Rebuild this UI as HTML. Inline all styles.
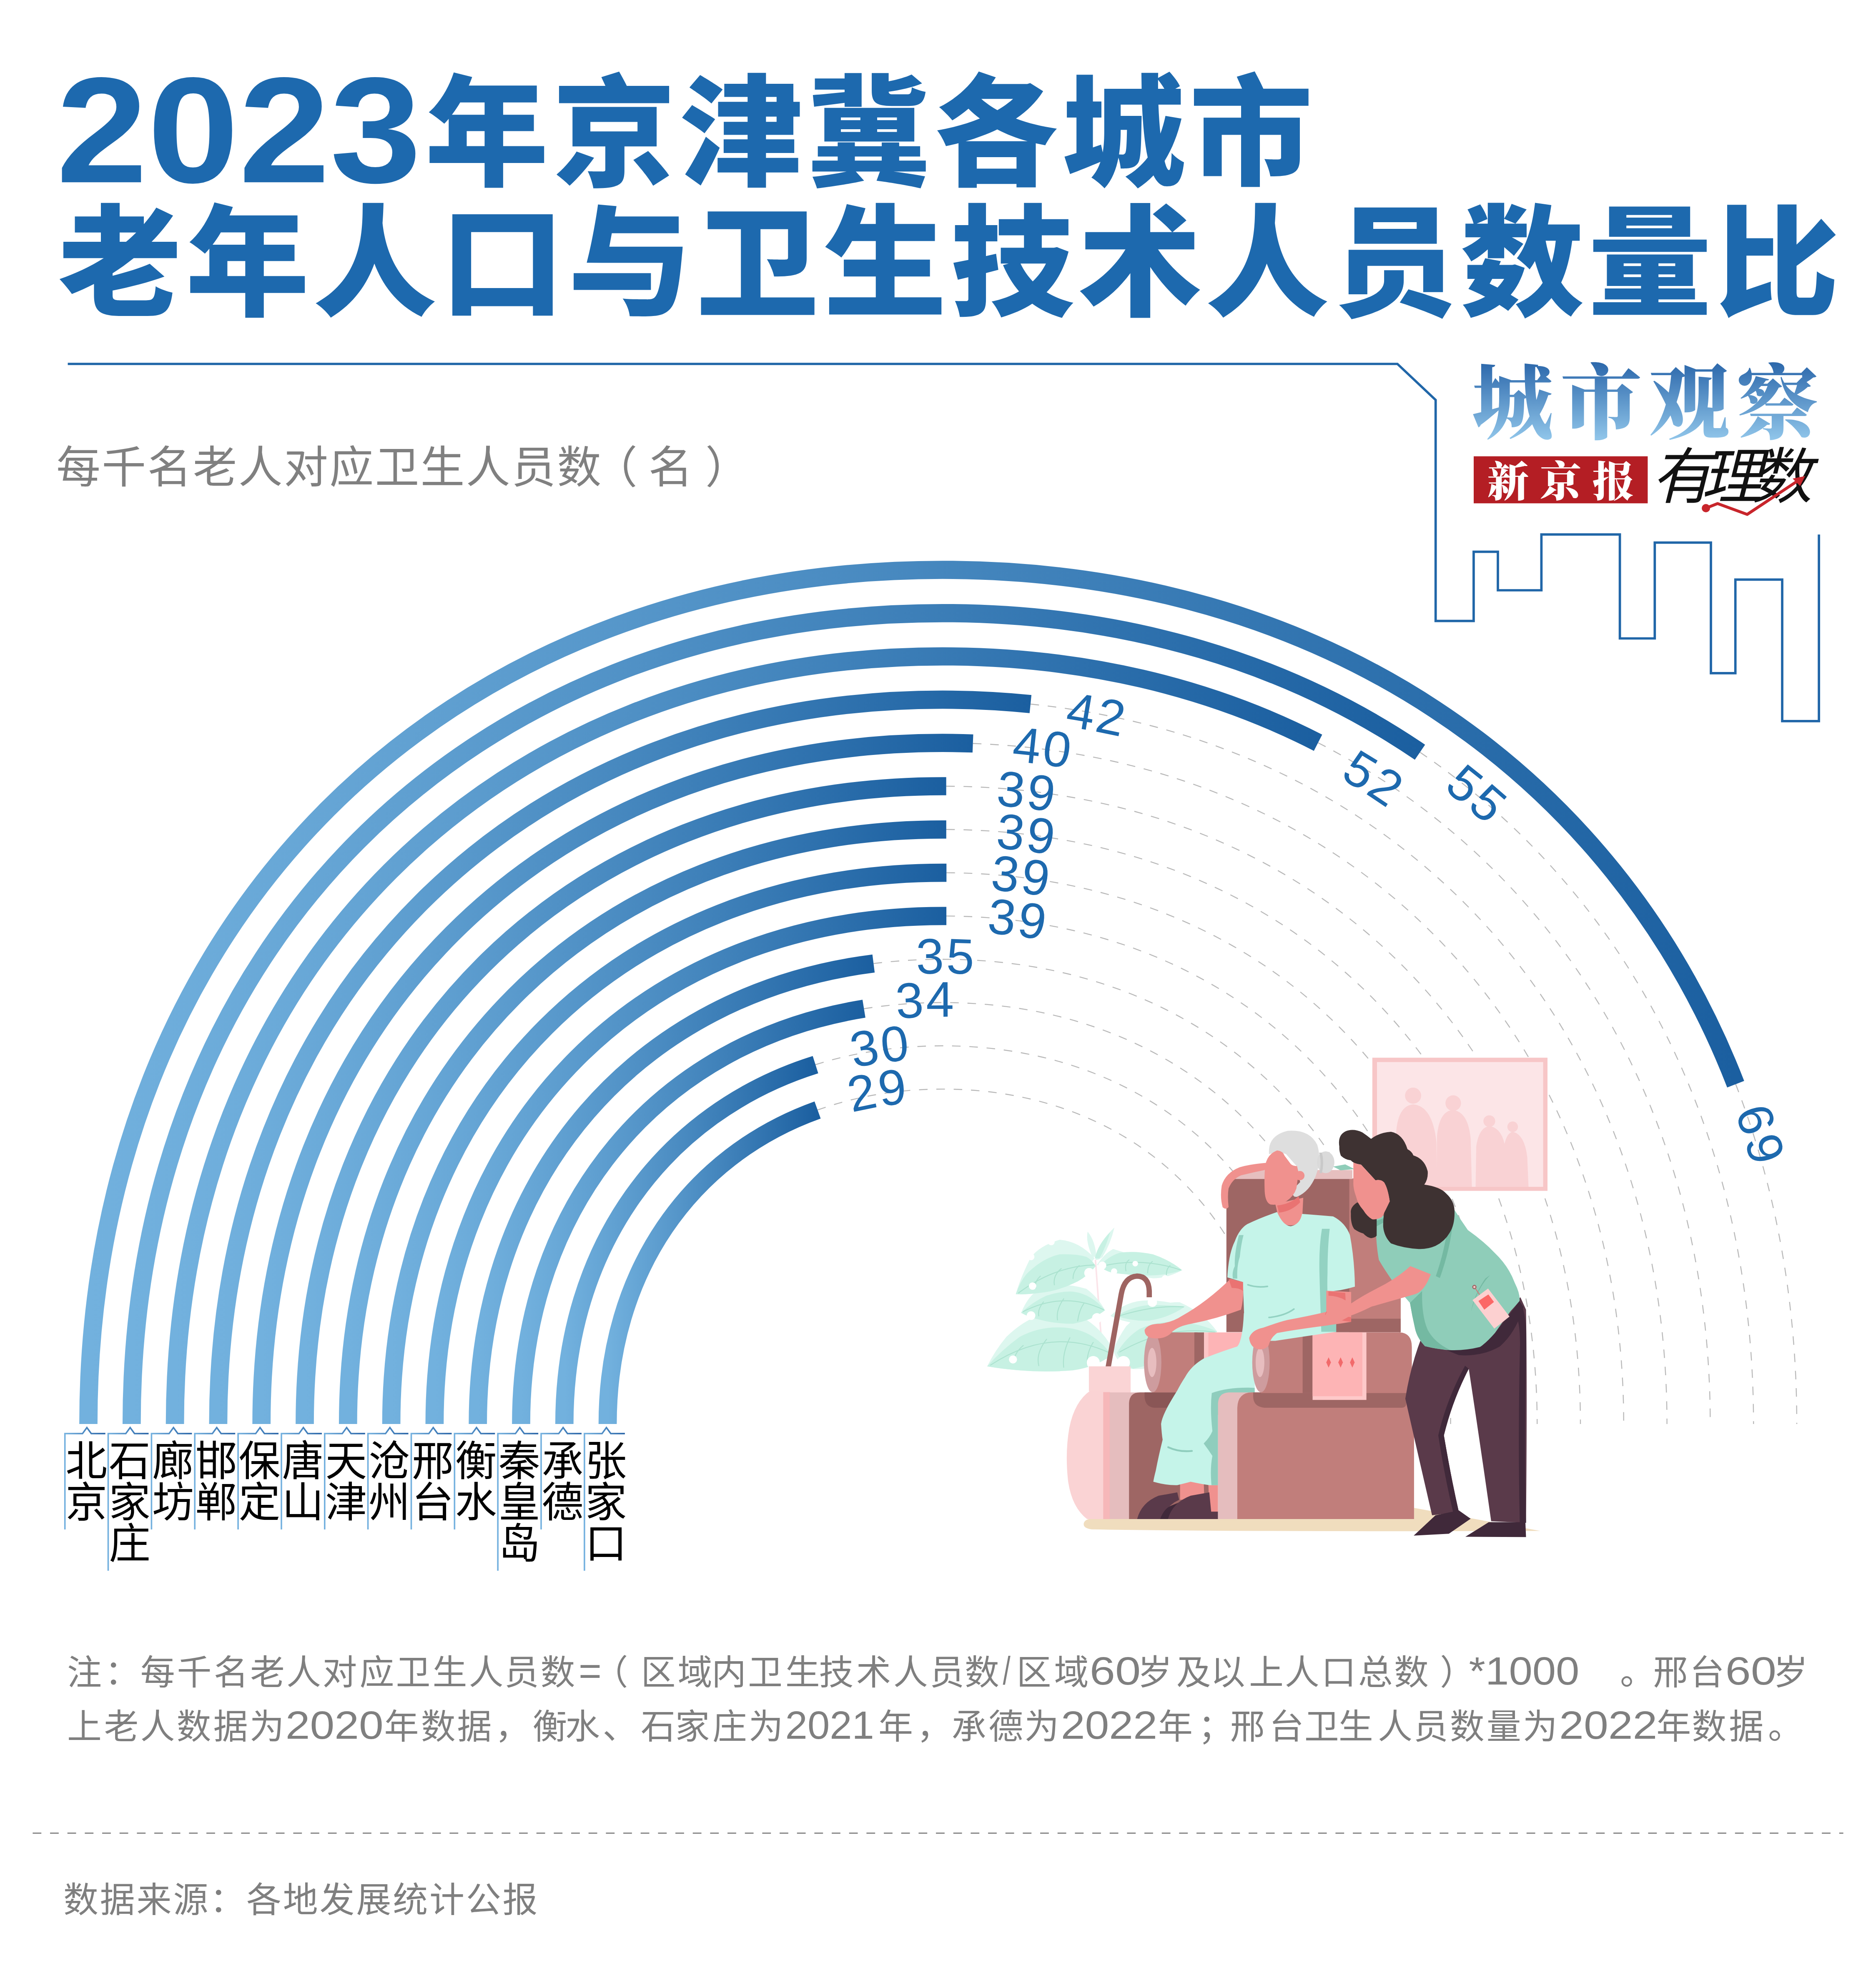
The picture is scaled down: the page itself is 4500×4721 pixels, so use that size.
<!DOCTYPE html><html><head><meta charset="utf-8"><style>
html,body{margin:0;padding:0;background:#fff;}
svg{display:block}
.cj{font-family:"Liberation Sans","Noto Sans CJK SC",sans-serif;}
</style></head><body>
<svg width="4500" height="4721" viewBox="0 0 4500 4721">
<rect width="4500" height="4721" fill="#fff"/>

<g fill="#1D69AE">
<text x="135" y="437.2" font-family="Liberation Sans, sans-serif" font-weight="700" font-size="361" textLength="875.6" lengthAdjust="spacingAndGlyphs">2023</text>
<text x="1019.8" y="423" font-family="Liberation Sans, Noto Sans CJK SC, sans-serif" font-weight="900" font-size="296" letter-spacing="9.5" transform="translate(0,423) scale(1,0.98) translate(0,-423)">年京津冀各城市</text>
<text x="139.9" y="734.7" font-family="Liberation Sans, Noto Sans CJK SC, sans-serif" font-weight="900" font-size="296" letter-spacing="9.8" transform="translate(0,734.7) scale(1,0.98) translate(0,-734.7)">老年人口与卫生技术人员数量比</text>
</g>
<polyline fill="none" stroke="#2066A8" stroke-width="5.7" stroke-linejoin="miter" stroke-miterlimit="10" points="162.6,873 3352,873 3443.7,959.4 3443.7,1489.6 3534.9,1489.6 3534.9,1323.6 3593,1323.6 3593,1416 3697.4,1416 3697.4,1282.2 3885.6,1282.2 3885.6,1531.5 3969.3,1531.5 3969.3,1301.6 4104,1301.6 4104,1614.8 4162.7,1614.8 4162.7,1390.3 4275,1390.3 4275,1729.8 4363.1,1729.8 4363.1,1282.2"/>
<defs><linearGradient id="lg" gradientUnits="userSpaceOnUse" x1="0" y1="869" x2="0" y2="1052"><stop offset="0" stop-color="#2C68AB"/><stop offset="1" stop-color="#8FC4E9"/></linearGradient></defs>
<text x="3530.7" y="1036.7" font-family="Liberation Serif, Noto Serif CJK SC, serif" font-weight="900" font-size="195" letter-spacing="17" fill="url(#lg)">城市观察</text>
<rect x="3535" y="1094.6" width="417.4" height="112.8" fill="#B41E24"/>
<text x="3567.6" y="1190.7" font-family="Liberation Serif, Noto Serif CJK SC, serif" font-weight="900" font-size="100" letter-spacing="26" fill="#fff">新京报</text>
<text transform="translate(3961,1195) skewX(-14)" x="0" y="0" font-family="Liberation Sans, Noto Sans CJK SC, sans-serif" font-weight="400" font-size="146" letter-spacing="-26" fill="#111">有理数</text>
<polyline points="4092,1219 4120,1208 4191,1234 4322,1147" fill="none" stroke="#C8252B" stroke-width="7" stroke-linejoin="round"/>
<circle cx="4092" cy="1219" r="10" fill="#C8252B"/>
<path d="M4330,1142 L4300,1148 L4318,1166 Z" fill="#C8252B"/>
<g font-family="Liberation Sans, Noto Sans CJK SC, sans-serif" font-size="106" fill="#808080"><text x="135" y="1158" letter-spacing="3.2">每千名老人对应卫生人员数</text><text x="1423" y="1158">（</text><text x="1555.6" y="1158">名</text><text x="1691.8" y="1158">）</text></g>
<defs>
<path id="ring0" d="M212.0,3416.0C212.0,2214.7 1059.7,1367.0 2261.0,1367.0C3462.3,1367.0 4310.0,2214.7 4310.0,3416.0"/>
<linearGradient id="g0" x1="0" y1="0" x2="1" y2="0"><stop offset="0" stop-color="#72B1DE"/><stop offset="1" stop-color="#1B5FA0"/></linearGradient>
<path id="ring1" d="M315.8,3416.0C315.8,2275.5 1120.5,1470.8 2261.0,1470.8C3401.5,1470.8 4206.2,2275.5 4206.2,3416.0"/>
<linearGradient id="g1" x1="0" y1="0" x2="1" y2="0"><stop offset="0" stop-color="#72B1DE"/><stop offset="1" stop-color="#1B5FA0"/></linearGradient>
<path id="ring2" d="M419.6,3416.0C419.6,2336.4 1181.4,1574.6 2261.0,1574.6C3340.6,1574.6 4102.4,2336.4 4102.4,3416.0"/>
<linearGradient id="g2" x1="0" y1="0" x2="1" y2="0"><stop offset="0" stop-color="#72B1DE"/><stop offset="1" stop-color="#1B5FA0"/></linearGradient>
<path id="ring3" d="M523.4,3416.0C523.4,2397.2 1242.2,1678.4 2261.0,1678.4C3279.8,1678.4 3998.6,2397.2 3998.6,3416.0"/>
<linearGradient id="g3" x1="0" y1="0" x2="1" y2="0"><stop offset="0" stop-color="#72B1DE"/><stop offset="1" stop-color="#1B5FA0"/></linearGradient>
<path id="ring4" d="M627.2,3416.0C627.2,2458.1 1303.1,1782.2 2261.0,1782.2C3218.9,1782.2 3894.8,2458.1 3894.8,3416.0"/>
<linearGradient id="g4" x1="0" y1="0" x2="1" y2="0"><stop offset="0" stop-color="#72B1DE"/><stop offset="1" stop-color="#1B5FA0"/></linearGradient>
<path id="ring5" d="M731.0,3416.0C731.0,2519.0 1364.0,1886.0 2261.0,1886.0C3158.0,1886.0 3791.0,2519.0 3791.0,3416.0"/>
<linearGradient id="g5" x1="0" y1="0" x2="1" y2="0"><stop offset="0" stop-color="#72B1DE"/><stop offset="1" stop-color="#1B5FA0"/></linearGradient>
<path id="ring6" d="M834.8,3416.0C834.8,2579.8 1424.8,1989.8 2261.0,1989.8C3097.2,1989.8 3687.2,2579.8 3687.2,3416.0"/>
<linearGradient id="g6" x1="0" y1="0" x2="1" y2="0"><stop offset="0" stop-color="#72B1DE"/><stop offset="1" stop-color="#1B5FA0"/></linearGradient>
<path id="ring7" d="M938.6,3416.0C938.6,2640.7 1485.7,2093.6 2261.0,2093.6C3036.3,2093.6 3583.4,2640.7 3583.4,3416.0"/>
<linearGradient id="g7" x1="0" y1="0" x2="1" y2="0"><stop offset="0" stop-color="#72B1DE"/><stop offset="1" stop-color="#1B5FA0"/></linearGradient>
<path id="ring8" d="M1042.4,3416.0C1042.4,2701.5 1546.5,2197.4 2261.0,2197.4C2975.5,2197.4 3479.6,2701.5 3479.6,3416.0"/>
<linearGradient id="g8" x1="0" y1="0" x2="1" y2="0"><stop offset="0" stop-color="#72B1DE"/><stop offset="1" stop-color="#1B5FA0"/></linearGradient>
<path id="ring9" d="M1146.2,3416.0C1146.2,2762.4 1607.4,2301.2 2261.0,2301.2C2914.6,2301.2 3375.8,2762.4 3375.8,3416.0"/>
<linearGradient id="g9" x1="0" y1="0" x2="1" y2="0"><stop offset="0" stop-color="#72B1DE"/><stop offset="1" stop-color="#1B5FA0"/></linearGradient>
<path id="ring10" d="M1250.0,3416.0C1250.0,2823.3 1668.3,2405.0 2261.0,2405.0C2853.7,2405.0 3272.0,2823.3 3272.0,3416.0"/>
<linearGradient id="g10" x1="0" y1="0" x2="1" y2="0"><stop offset="0" stop-color="#72B1DE"/><stop offset="1" stop-color="#1B5FA0"/></linearGradient>
<path id="ring11" d="M1353.8,3416.0C1353.8,2884.1 1729.1,2508.8 2261.0,2508.8C2792.9,2508.8 3168.2,2884.1 3168.2,3416.0"/>
<linearGradient id="g11" x1="0" y1="0" x2="1" y2="0"><stop offset="0" stop-color="#72B1DE"/><stop offset="1" stop-color="#1B5FA0"/></linearGradient>
<path id="ring12" d="M1457.6,3416.0C1457.6,2945.0 1790.0,2612.6 2261.0,2612.6C2732.0,2612.6 3064.4,2945.0 3064.4,3416.0"/>
<linearGradient id="g12" x1="0" y1="0" x2="1" y2="0"><stop offset="0" stop-color="#72B1DE"/><stop offset="1" stop-color="#1B5FA0"/></linearGradient>
</defs>
<g fill="none" stroke="#B9B9B9" stroke-width="2.4" stroke-dasharray="20.5 21">
<path d="M4163.4,2600.8C4258.7,2846.2 4310.0,3120.4 4310.0,3416.0"/>
<path d="M3406.1,1804.5C3903.4,2143.2 4206.2,2716.4 4206.2,3416.0"/>
<path d="M3161.6,1781.7C3740.3,2078.4 4102.4,2671.7 4102.4,3416.0"/>
<path d="M2471.9,1689.0C3377.6,1781.3 3998.6,2469.1 3998.6,3416.0"/>
<path d="M2333.7,1783.5C3252.9,1816.9 3894.8,2482.5 3894.8,3416.0"/>
<path d="M2269.7,1886.0C3162.1,1890.1 3791.0,2521.9 3791.0,3416.0"/>
<path d="M2269.8,1989.8C3101.3,1993.9 3687.2,2582.7 3687.2,3416.0"/>
<path d="M2270.3,2093.6C3040.7,2098.0 3583.4,2643.8 3583.4,3416.0"/>
<path d="M2270.1,2197.4C2979.7,2201.7 3479.6,2704.6 3479.6,3416.0"/>
<path d="M2095.4,2311.4C2149.0,2304.7 2204.3,2301.2 2261.0,2301.2C2914.6,2301.2 3375.8,2762.4 3375.8,3416.0"/>
<path d="M2072.4,2419.8C2133.0,2410.0 2195.9,2405.0 2261.0,2405.0C2853.7,2405.0 3272.0,2823.3 3272.0,3416.0"/>
<path d="M1956.1,2554.0C2050.0,2524.5 2152.2,2508.8 2261.0,2508.8C2792.9,2508.8 3168.2,2884.1 3168.2,3416.0"/>
<path d="M1961.2,2662.7C2052.3,2630.1 2153.0,2612.6 2261.0,2612.6C2732.0,2612.6 3064.4,2945.0 3064.4,3416.0"/>
</g>
<path d="M212.0,3416.0C212.0,2214.7 1059.7,1367.0 2261.0,1367.0C3166.7,1367.0 3871.4,1848.8 4163.4,2600.8" fill="none" stroke="url(#g0)" stroke-width="43.7"/>
<path d="M315.8,3416.0C315.8,2275.5 1120.5,1470.8 2261.0,1470.8C2701.9,1470.8 3092.6,1591.1 3406.1,1804.5" fill="none" stroke="url(#g1)" stroke-width="43.7"/>
<path d="M419.6,3416.0C419.6,2336.4 1181.4,1574.6 2261.0,1574.6C2596.3,1574.6 2901.0,1648.1 3161.6,1781.7" fill="none" stroke="url(#g2)" stroke-width="43.7"/>
<path d="M523.4,3416.0C523.4,2397.2 1242.2,1678.4 2261.0,1678.4C2332.8,1678.4 2403.2,1682.0 2471.9,1689.0" fill="none" stroke="url(#g3)" stroke-width="43.7"/>
<path d="M627.2,3416.0C627.2,2458.1 1303.1,1782.2 2261.0,1782.2C2285.4,1782.2 2309.7,1782.6 2333.7,1783.5" fill="none" stroke="url(#g4)" stroke-width="43.7"/>
<path d="M731.0,3416.0C731.0,2519.0 1364.0,1886.0 2261.0,1886.0C2263.9,1886.0 2266.8,1886.0 2269.7,1886.0" fill="none" stroke="url(#g5)" stroke-width="43.7"/>
<path d="M834.8,3416.0C834.8,2579.8 1424.8,1989.8 2261.0,1989.8C2263.9,1989.8 2266.9,1989.8 2269.8,1989.8" fill="none" stroke="url(#g6)" stroke-width="43.7"/>
<path d="M938.6,3416.0C938.6,2640.7 1485.7,2093.6 2261.0,2093.6C2264.1,2093.6 2267.2,2093.6 2270.3,2093.6" fill="none" stroke="url(#g7)" stroke-width="43.7"/>
<path d="M1042.4,3416.0C1042.4,2701.5 1546.5,2197.4 2261.0,2197.4C2264.0,2197.4 2267.1,2197.4 2270.1,2197.4" fill="none" stroke="url(#g8)" stroke-width="43.7"/>
<path d="M1146.2,3416.0C1146.2,2819.1 1530.8,2382.7 2095.4,2311.4" fill="none" stroke="url(#g9)" stroke-width="43.7"/>
<path d="M1250.0,3416.0C1250.0,2888.3 1581.5,2498.9 2072.4,2419.8" fill="none" stroke="url(#g10)" stroke-width="43.7"/>
<path d="M1353.8,3416.0C1353.8,2992.9 1591.3,2668.9 1956.1,2554.0" fill="none" stroke="url(#g11)" stroke-width="43.7"/>
<path d="M1457.6,3416.0C1457.6,3053.0 1655.0,2772.3 1961.2,2662.7" fill="none" stroke="url(#g12)" stroke-width="43.7"/>
<g font-family="Liberation Sans, sans-serif" font-size="120" fill="#1D69AE">
<text dy="25" text-anchor="middle" letter-spacing="6"><textPath href="#ring0" startOffset="5801.4">69</textPath></text>
<text dy="39" text-anchor="middle" letter-spacing="6"><textPath href="#ring1" startOffset="4466.7">55</textPath></text>
<text dy="49.5" text-anchor="middle" letter-spacing="6"><textPath href="#ring2" startOffset="4013.4">52</textPath></text>
<text dy="43" text-anchor="middle" letter-spacing="6"><textPath href="#ring3" startOffset="3129.1">42</textPath></text>
<text dy="37" text-anchor="middle" letter-spacing="6"><textPath href="#ring4" startOffset="2832.8">40</textPath></text>
<text dy="42" text-anchor="middle" letter-spacing="6"><textPath href="#ring5" startOffset="2630.3">39</textPath></text>
<text dy="40" text-anchor="middle" letter-spacing="6"><textPath href="#ring6" startOffset="2464.7">39</textPath></text>
<text dy="37" text-anchor="middle" letter-spacing="6"><textPath href="#ring7" startOffset="2287.1">39</textPath></text>
<text dy="37" text-anchor="middle" letter-spacing="6"><textPath href="#ring8" startOffset="2114.3">39</textPath></text>
<text dy="34" text-anchor="middle" letter-spacing="6"><textPath href="#ring9" startOffset="1777.0">35</textPath></text>
<text dy="34" text-anchor="middle" letter-spacing="6"><textPath href="#ring10" startOffset="1563.7">34</textPath></text>
<text dy="31" text-anchor="middle" letter-spacing="6"><textPath href="#ring11" startOffset="1291.1">30</textPath></text>
<text dy="30" text-anchor="middle" letter-spacing="6"><textPath href="#ring12" startOffset="1120.7">29</textPath></text>
</g>
<defs><linearGradient id="bg" x1="0" y1="0" x2="1" y2="0"><stop offset="0" stop-color="#74B1DF"/><stop offset="1" stop-color="#2461A5"/></linearGradient></defs>
<path d="M155.7,3669 V3439 H197.9 L208.4,3424.6 L218.9,3439 H252.7" fill="none" stroke="url(#bg)" stroke-width="3.6"/>
<text x="157.2" y="3539.8" font-family="Liberation Sans, Noto Sans CJK SC, sans-serif" font-size="100" fill="#000">北</text>
<text x="157.2" y="3639.1" font-family="Liberation Sans, Noto Sans CJK SC, sans-serif" font-size="100" fill="#000">京</text>
<path d="M259.5,3768 V3439 H301.7 L312.2,3424.6 L322.7,3439 H356.5" fill="none" stroke="url(#bg)" stroke-width="3.6"/>
<text x="261.0" y="3539.8" font-family="Liberation Sans, Noto Sans CJK SC, sans-serif" font-size="100" fill="#000">石</text>
<text x="261.0" y="3639.1" font-family="Liberation Sans, Noto Sans CJK SC, sans-serif" font-size="100" fill="#000">家</text>
<text x="261.0" y="3738.4" font-family="Liberation Sans, Noto Sans CJK SC, sans-serif" font-size="100" fill="#000">庄</text>
<path d="M363.4,3669 V3439 H405.6 L416.1,3424.6 L426.6,3439 H460.4" fill="none" stroke="url(#bg)" stroke-width="3.6"/>
<text x="364.9" y="3539.8" font-family="Liberation Sans, Noto Sans CJK SC, sans-serif" font-size="100" fill="#000">廊</text>
<text x="364.9" y="3639.1" font-family="Liberation Sans, Noto Sans CJK SC, sans-serif" font-size="100" fill="#000">坊</text>
<path d="M467.2,3669 V3439 H509.4 L519.9,3424.6 L530.4,3439 H564.2" fill="none" stroke="url(#bg)" stroke-width="3.6"/>
<text x="468.7" y="3539.8" font-family="Liberation Sans, Noto Sans CJK SC, sans-serif" font-size="100" fill="#000">邯</text>
<text x="468.7" y="3639.1" font-family="Liberation Sans, Noto Sans CJK SC, sans-serif" font-size="100" fill="#000">郸</text>
<path d="M571.1,3669 V3439 H613.3 L623.8,3424.6 L634.3,3439 H668.1" fill="none" stroke="url(#bg)" stroke-width="3.6"/>
<text x="572.6" y="3539.8" font-family="Liberation Sans, Noto Sans CJK SC, sans-serif" font-size="100" fill="#000">保</text>
<text x="572.6" y="3639.1" font-family="Liberation Sans, Noto Sans CJK SC, sans-serif" font-size="100" fill="#000">定</text>
<path d="M675.0,3669 V3439 H717.2 L727.7,3424.6 L738.2,3439 H772.0" fill="none" stroke="url(#bg)" stroke-width="3.6"/>
<text x="676.5" y="3539.8" font-family="Liberation Sans, Noto Sans CJK SC, sans-serif" font-size="100" fill="#000">唐</text>
<text x="676.5" y="3639.1" font-family="Liberation Sans, Noto Sans CJK SC, sans-serif" font-size="100" fill="#000">山</text>
<path d="M778.8,3669 V3439 H821.0 L831.5,3424.6 L842.0,3439 H875.8" fill="none" stroke="url(#bg)" stroke-width="3.6"/>
<text x="780.3" y="3539.8" font-family="Liberation Sans, Noto Sans CJK SC, sans-serif" font-size="100" fill="#000">天</text>
<text x="780.3" y="3639.1" font-family="Liberation Sans, Noto Sans CJK SC, sans-serif" font-size="100" fill="#000">津</text>
<path d="M882.6,3669 V3439 H924.8 L935.3,3424.6 L945.8,3439 H979.6" fill="none" stroke="url(#bg)" stroke-width="3.6"/>
<text x="884.1" y="3539.8" font-family="Liberation Sans, Noto Sans CJK SC, sans-serif" font-size="100" fill="#000">沧</text>
<text x="884.1" y="3639.1" font-family="Liberation Sans, Noto Sans CJK SC, sans-serif" font-size="100" fill="#000">州</text>
<path d="M986.5,3669 V3439 H1028.7 L1039.2,3424.6 L1049.7,3439 H1083.5" fill="none" stroke="url(#bg)" stroke-width="3.6"/>
<text x="988.0" y="3539.8" font-family="Liberation Sans, Noto Sans CJK SC, sans-serif" font-size="100" fill="#000">邢</text>
<text x="988.0" y="3639.1" font-family="Liberation Sans, Noto Sans CJK SC, sans-serif" font-size="100" fill="#000">台</text>
<path d="M1090.3,3669 V3439 H1132.5 L1143.0,3424.6 L1153.5,3439 H1187.3" fill="none" stroke="url(#bg)" stroke-width="3.6"/>
<text x="1091.8" y="3539.8" font-family="Liberation Sans, Noto Sans CJK SC, sans-serif" font-size="100" fill="#000">衡</text>
<text x="1091.8" y="3639.1" font-family="Liberation Sans, Noto Sans CJK SC, sans-serif" font-size="100" fill="#000">水</text>
<path d="M1194.2,3768 V3439 H1236.4 L1246.9,3424.6 L1257.4,3439 H1291.2" fill="none" stroke="url(#bg)" stroke-width="3.6"/>
<text x="1195.7" y="3539.8" font-family="Liberation Sans, Noto Sans CJK SC, sans-serif" font-size="100" fill="#000">秦</text>
<text x="1195.7" y="3639.1" font-family="Liberation Sans, Noto Sans CJK SC, sans-serif" font-size="100" fill="#000">皇</text>
<text x="1195.7" y="3738.4" font-family="Liberation Sans, Noto Sans CJK SC, sans-serif" font-size="100" fill="#000">岛</text>
<path d="M1298.0,3669 V3439 H1340.2 L1350.8,3424.6 L1361.2,3439 H1395.0" fill="none" stroke="url(#bg)" stroke-width="3.6"/>
<text x="1299.5" y="3539.8" font-family="Liberation Sans, Noto Sans CJK SC, sans-serif" font-size="100" fill="#000">承</text>
<text x="1299.5" y="3639.1" font-family="Liberation Sans, Noto Sans CJK SC, sans-serif" font-size="100" fill="#000">德</text>
<path d="M1401.9,3768 V3439 H1444.1 L1454.6,3424.6 L1465.1,3439 H1498.9" fill="none" stroke="url(#bg)" stroke-width="3.6"/>
<text x="1403.4" y="3539.8" font-family="Liberation Sans, Noto Sans CJK SC, sans-serif" font-size="100" fill="#000">张</text>
<text x="1403.4" y="3639.1" font-family="Liberation Sans, Noto Sans CJK SC, sans-serif" font-size="100" fill="#000">家</text>
<text x="1403.4" y="3738.4" font-family="Liberation Sans, Noto Sans CJK SC, sans-serif" font-size="100" fill="#000">口</text>
<g transform="translate(2350,2500) scale(0.7463)">
<!-- picture frame -->
<rect x="1262" y="50" width="563" height="428" fill="#F7C6C7"/>
<rect x="1277" y="64" width="534" height="401" fill="#FCE5E7"/>
<g fill="#F9D2D4">
<circle cx="1393" cy="172" r="26"/>
<path d="M1338,465 L1338,300 Q1342,205 1393,200 Q1455,205 1468,320 L1470,465 Z"/>
<circle cx="1522" cy="196" r="25"/>
<path d="M1468,465 L1470,300 Q1478,220 1522,218 Q1570,225 1578,310 L1582,465 Z"/>
<circle cx="1638" cy="254" r="19"/>
<path d="M1594,465 L1596,335 Q1605,272 1640,270 Q1682,278 1690,345 L1692,465 Z"/>
<circle cx="1713" cy="272" r="17"/>
<path d="M1680,465 L1683,345 Q1692,290 1714,288 Q1752,298 1760,370 L1764,465 Z"/>
</g>
<!-- floor -->
<path d="M335,1545 Q340,1530 380,1530 L1396,1530 L1396,1497 L1802,1571 L1396,1572 Q700,1572 360,1566 Q330,1562 335,1545 Z" fill="#F0DDBE"/>
<!-- plant -->
<g>
<path d="M372,700 L395,1010" stroke="#FBE4E9" stroke-width="5" fill="none"/>
<g fill="#DDF7EF">
<path d="M372,700 Q385,640 433,596 Q420,650 395,690 Q385,700 372,700 Z"/>
<path d="M362,690 Q340,640 347,609 Q372,640 375,690 Z"/>
<path d="M116,810 Q130,760 163,694 Q190,655 257,635 Q320,640 369,694 Q330,760 257,793 Q180,812 116,810 Z"/>
<path d="M377,716 Q400,680 429,665 Q480,680 514,694 Q590,705 651,733 Q600,760 557,759 Q480,750 429,737 Z"/>
<path d="M133,870 Q150,830 171,810 Q210,785 257,780 Q300,780 343,793 Q380,820 403,862 Q330,900 257,905 Q190,900 133,870 Z"/>
<path d="M420,880 Q470,830 540,830 Q600,830 660,850 Q600,900 540,905 Q470,905 420,880 Z"/>
<path d="M24,1042 Q50,990 86,947 Q130,905 171,887 Q210,872 257,874 Q300,875 343,892 Q400,930 429,990 Q360,1040 257,1058 Q140,1062 24,1042 Z"/>
<path d="M429,990 Q445,950 471,913 Q520,865 579,845 Q610,835 643,836 Q720,870 763,930 Q720,1000 643,1030 Q540,1055 480,1050 Q440,1030 429,990 Z"/>
</g>
<g fill="#C7F1E3">
<path d="M370,695 Q380,650 420,610 Q405,660 385,695 Z"/>
<path d="M116,810 Q130,770 150,746 Q200,695 257,682 Q310,680 343,690 Q362,700 373,720 Q340,760 300,776 Q250,800 193,806 Q150,812 116,810 Z"/>
<path d="M386,720 Q410,690 450,677 Q500,670 557,682 Q610,700 651,733 Q600,750 536,750 Q480,748 429,742 Q400,735 386,720 Z"/>
<path d="M133,870 Q170,835 214,815 Q260,800 300,802 Q360,810 403,862 Q360,895 300,905 Q240,905 193,892 Q160,885 133,870 Z"/>
<path d="M24,1042 Q70,990 129,947 Q190,915 257,917 Q320,918 364,947 Q400,970 424,1007 Q370,1045 300,1055 Q210,1062 129,1055 Q70,1050 24,1042 Z"/>
<path d="M441,999 Q470,950 514,922 Q570,895 643,900 Q710,905 763,930 Q720,985 643,1007 Q560,1035 493,1050 Q455,1030 441,999 Z"/>
<path d="M440,880 Q490,850 545,845 Q610,845 660,850 Q610,885 545,895 Q490,898 440,880 Z"/>
</g>
<g fill="none" stroke="#ABE2CF" stroke-width="3" stroke-linecap="round">
<path d="M125,806 Q240,720 368,716"/>
<path d="M392,720 Q520,690 645,732"/>
<path d="M140,866 Q270,800 398,860"/>
<path d="M35,1038 Q230,910 420,1000"/>
<path d="M450,996 Q600,910 755,932"/>
<path d="M448,880 Q560,845 655,851"/>
<path d="M180,790 Q175,770 195,752 M240,780 Q235,750 262,728 M300,760 Q300,735 320,718"/>
<path d="M470,735 Q465,710 480,700 M540,742 Q540,715 555,705 M600,748 Q600,728 612,718"/>
<path d="M190,880 Q185,860 205,835 M250,893 Q245,860 270,825 M315,896 Q320,860 335,840"/>
<path d="M110,1030 Q110,1000 140,975 M190,1040 Q180,1000 215,955 M270,1045 Q265,1000 290,950 M345,1035 Q345,995 365,965"/>
<path d="M530,1025 Q530,990 555,960 M600,1010 Q600,975 625,945 M670,990 Q675,960 695,940"/>
</g>
<g fill="#fff">
<circle cx="352" cy="742" r="16"/><circle cx="394" cy="718" r="13"/><circle cx="165" cy="690" r="11"/>
<circle cx="170" cy="784" r="12"/><circle cx="165" cy="879" r="14"/><circle cx="377" cy="887" r="16"/>
<circle cx="107" cy="1020" r="13"/><circle cx="365" cy="1030" r="21"/><circle cx="462" cy="1030" r="21"/>
<circle cx="555" cy="836" r="15"/><circle cx="596" cy="760" r="11"/><circle cx="230" cy="642" r="11"/>
<circle cx="500" cy="712" r="9"/><circle cx="432" cy="737" r="10"/>
</g>
</g>
<!-- cane -->
<path d="M413,1045 L455,810 Q465,755 505,752 Q543,752 545,800 L545,820" fill="none" stroke="#9E6461" stroke-width="17"/>
<!-- vase -->
<rect x="351" y="1042" width="134" height="80" fill="#FAD4D5"/>
<path d="M356,1120 Q305,1155 288,1240 Q274,1320 284,1410 Q296,1495 345,1533 L485,1533 L485,1120 Z" fill="#FAD3D4"/>
<rect x="397" y="1125" width="22" height="408" fill="#F6B7B9"/>
<!-- chair back -->
<path d="M793,460 Q793,440 815,438 L1353,438 L1353,932 L793,932 Z" fill="#9E6664"/>
<rect x="1188" y="438" width="165" height="494" fill="#C17E7B"/>
<rect x="1146" y="889" width="207" height="43" fill="#9E6664"/>
<path d="M831,411 L1198,411 L1198,440 L815,440 Z" fill="#E6BFBF"/>
<!-- chair left base -->
<path d="M418,1126 L760,1126 L760,1533 L418,1533 Z" fill="#E5BDBE"/>
<path d="M480,1533 L480,1160 Q482,1126 515,1126 L765,1126 L765,1533 Z" fill="#9E6664"/>
<path d="M530,1126 L640,1126 L640,1175 L560,1175 Q532,1172 530,1140 Z" fill="#8A5656"/>
<!-- left roll -->
<path d="M555,933 L700,933 Q722,1029 700,1126 L555,1126 Z" fill="#C17E7B"/>
<rect x="690" y="933" width="31" height="193" fill="#9E6664"/>
<rect x="721" y="933" width="15" height="120" fill="#FDC6C7"/>
<rect x="735" y="933" width="120" height="90" fill="#FDB4B6"/>
<ellipse cx="556" cy="1029.5" rx="28" ry="96" fill="#CE9C9E"/>
<ellipse cx="554" cy="1029.5" rx="14" ry="47" fill="#E7BDBF"/>
<!-- dress lower & legs -->
<path d="M644,1410 L720,1410 L722,1471 L644,1471 Z" fill="#F0918E"/>
<path d="M735,1420 L766,1420 L766,1510 L738,1510 Z" fill="#F0918E"/>
<path d="M849,871 Q845,960 828,978 Q760,1000 720,1017 Q680,1040 660,1077 Q645,1100 635,1120 Q610,1160 600,1180 Q585,1210 583,1227 Q585,1260 588,1278 Q575,1330 566,1377 Q560,1400 558,1413 Q600,1425 635,1424 Q660,1418 678,1413 Q710,1420 738,1424 L766,1424 L766,1128 Q800,1112 884,1111 L884,960 L880,871 Z" fill="#C5F4E9"/>
<path d="M746,1128 Q800,1108 884,1111 L884,1130 Q830,1125 800,1140 Q770,1155 766,1200 L766,1424 L745,1424 Q740,1370 748,1330 Q735,1310 720,1290 Q740,1270 748,1250 Q740,1180 746,1128 Z" fill="#8FCDBD"/>
<path d="M606,1302 Q640,1318 682,1314" fill="none" stroke="#8FCDBD" stroke-width="6" stroke-linecap="round"/>
<!-- shoes -->
<path d="M506,1533 Q520,1480 575,1458 L635,1447 L641,1471 Q600,1490 585,1533 Z" fill="#5A3A4A"/>
<path d="M580,1533 Q592,1500 615,1490 L640,1480 L620,1533 Z" fill="#40293A"/>
<path d="M605,1533 Q620,1480 678,1458 L738,1447 L744,1509 L766,1509 L766,1533 Z" fill="#5A3A4A"/>
<!-- chair right base -->
<path d="M766,1533 L766,1160 Q768,1128 800,1126 L1396,1126 L1396,1533 Z" fill="#E5BDBE"/>
<path d="M828,1533 L828,1175 Q830,1126 875,1126 L1396,1126 L1396,1533 Z" fill="#C17E7B"/>
<path d="M879,1126 L1371,1126 L1371,1160 Q1371,1175 1356,1175 L915,1175 Q880,1172 879,1140 Z" fill="#9E6664"/>
<!-- right roll -->
<path d="M904,933 L1350,933 Q1389,935 1389,980 L1389,1128 L904,1128 Z" fill="#C17E7B"/>
<rect x="1038" y="933" width="32" height="195" fill="#9E6664"/>
<rect x="1070" y="933" width="173" height="217" fill="#FEC9C9"/>
<rect x="1070" y="933" width="160" height="205" fill="#FDB4B5"/>
<g fill="#F26A6B">
<path d="M1121.5,1013 L1129,1029.5 L1121.5,1046 L1114,1029.5 Z"/>
<path d="M1160,1013 L1167.5,1029.5 L1160,1046 L1152.5,1029.5 Z"/>
<path d="M1197.7,1013 L1205.2,1029.5 L1197.7,1046 L1190.2,1029.5 Z"/>
</g>
<ellipse cx="904" cy="1029.5" rx="28" ry="96" fill="#CE9C9E"/>
<ellipse cx="901" cy="1029.5" rx="14" ry="47" fill="#E7BDBF"/>
<!-- old woman upper -->
<path d="M921,388 Q870,392 836,402 Q790,420 778,461 Q772,500 781,531 Q792,540 800,530 Q796,495 800,470 Q812,440 840,428 Q880,418 921,410 Z" fill="#F0918E"/>
<path d="M950,520 Q960,560 960,575 Q990,600 1036,580 L1040,500 Z" fill="#F0918E"/>
<path d="M956,525 Q1000,520 1025,495 L1030,515 Q1000,545 962,548 Z" fill="#E97372"/>
<!-- dress upper -->
<path d="M796,756 Q800,680 820,640 Q835,600 860,585 Q900,565 956,546 Q975,590 1000,592 Q1030,585 1036,552 Q1090,556 1136,560 Q1175,580 1190,620 Q1205,700 1206,786 Q1160,800 1121,801 L1146,931 Q1050,945 950,960 L880,960 L850,880 L846,771 Z" fill="#C5F4E9"/>
<path d="M1100,600 Q1090,660 1092,740 Q1094,820 1098,931 L1146,931 L1146,870 L1120,860 Q1116,800 1118,740 Q1118,660 1125,600 Z" fill="#93D2C2"/>
<path d="M833,620 Q818,680 820,720 Q810,740 814,760 L828,760 Q826,720 836,690 Q840,650 848,620 Z" fill="#93D2C2"/>
<path d="M862,780 Q890,790 925,785" fill="none" stroke="#93D2C2" stroke-width="5" stroke-linecap="round"/>
<path d="M930,885 Q980,880 1010,858" fill="none" stroke="#93D2C2" stroke-width="5" stroke-linecap="round"/>
<!-- arms -->
<path d="M806,761 L846,771 Q850,820 840,860 Q760,890 680,905 Q640,912 620,930 Q600,955 560,952 Q530,950 530,925 Q540,905 580,905 Q620,900 650,880 Q730,835 806,761 Z" fill="#F0918E"/>
<path d="M800,761 L846,771 L846,800 Q835,790 810,790 Z" fill="#EA7372"/>
<path d="M1114,799 L1194,803 L1194,899 Q1150,906 1085,915 Q1010,925 956,935 Q935,950 928,976 Q915,990 895,987 Q870,982 866,951 Q875,925 911,918 Q960,900 989,893 Q1060,880 1114,867 Z" fill="#F0918E"/>
<path d="M1114,866 Q1150,880 1194,884 L1194,899 Q1150,895 1110,876 Z" fill="#EA7372"/>
<path d="M1121,801 L1175,806 L1176,830 Q1150,815 1121,815 Z" fill="#EA7372"/>
<!-- hair -->
<path d="M930,360 Q925,300 990,285 Q1060,280 1085,330 Q1100,380 1080,430 Q1060,480 1020,497 Q1000,500 1010,470 L1030,450 L1020,400 L985,360 Q960,350 930,360 Z" fill="#DEDEDE"/>
<ellipse cx="1112" cy="386" rx="28" ry="35" fill="#DADADA"/>
<path d="M1091,355 Q1100,386 1092,421 L1100,421 Q1108,386 1100,355 Z" fill="#C9C9C9"/>
<!-- face -->
<path d="M956,348 Q975,350 980,365 L1000,392 Q1010,400 1020,398 L1025,420 L1018,470 Q1010,495 985,512 Q960,525 935,522 Q918,515 916,480 Q914,430 918,395 Q925,360 956,348 Z" fill="#F0918E"/>
<circle cx="1029" cy="429" r="15" fill="#F0918E"/>
<!-- nurse -->
<path d="M1136,400 L1175,393 L1205,408 L1160,412 Z" fill="#8FCDB9"/>
<!-- nurse pants -->
<path d="M1420,950 L1600,940 L1700,850 L1738,820 L1756,860 Q1760,1100 1756,1545 L1644,1540 Q1610,1300 1572,1050 Q1520,1150 1492,1264 Q1515,1400 1540,1510 L1454,1521 Q1410,1330 1368,1146 Q1385,1040 1420,950 Z" fill="#5A3A4A"/>
<path d="M1736,840 Q1760,860 1756,1000 Q1750,1300 1756,1545 L1736,1545 Q1730,1300 1736,1000 Q1740,900 1720,870 Z" fill="#40293A"/>
<path d="M1572,1050 Q1520,1150 1492,1264 Q1515,1400 1540,1510 L1522,1512 Q1495,1400 1474,1264 Q1500,1150 1560,1040 Z" fill="#40293A"/>
<path d="M1500,990 Q1600,988 1656,935 Q1700,880 1735,832 L1748,852 Q1722,935 1672,978 Q1612,1012 1540,1006 Z" fill="#40293A"/>
<path d="M1395,1586 L1465,1521 L1540,1505 L1578,1532 L1508,1580 Z" fill="#40293A"/>
<path d="M1561,1590 L1636,1543 L1754,1543 L1756,1591 Z" fill="#40293A"/>
<path d="M1273,560 L1524,536 Q1545,570 1569,604 Q1620,640 1656,678 Q1700,720 1720,774 Q1738,810 1735,832 Q1720,850 1707,864 Q1680,900 1656,935 Q1630,965 1608,980 Q1560,992 1511,990 Q1470,987 1431,977 Q1405,950 1399,919 Q1390,880 1383,838 Q1330,780 1283,700 Q1272,640 1273,560 Z" fill="#8FCDB9"/>
<path d="M1422,800 Q1420,880 1440,925 Q1462,966 1511,989 Q1470,987 1431,977 Q1405,950 1399,919 Q1390,880 1383,838 Z" fill="#74B9A2"/>
<path d="M1524,543 Q1518,650 1479,758 L1466,752 Q1502,650 1508,548 Z" fill="#74B9A2"/>
<path d="M1640,749 Q1600,790 1579,867 Q1590,810 1625,760 Z" fill="#74B9A2"/>
<path d="M1273,575 L1300,565 L1298,580 L1276,592 Z" fill="#74B9A2"/>
<!-- nurse arm -->
<path d="M1384,720 L1450,746 Q1430,800 1400,810 Q1330,830 1260,850 Q1220,870 1190,880 Q1150,905 1118,909 Q1100,890 1120,860 Q1150,840 1189,843 Q1230,815 1280,790 Q1340,760 1384,720 Z" fill="#F0918E"/>
<!-- badge -->
<line x1="1590" y1="787" x2="1607" y2="812" stroke="#C4807D" stroke-width="3"/>
<path d="M1584,829 L1634,792 L1703,882 L1654,921 Z" fill="#FCD0D0"/>
<path d="M1603,832 L1635,811 L1653,835 L1622,860 Z" fill="#FB6766"/>
<circle cx="1590" cy="787" r="7" fill="#A06866"/><circle cx="1590" cy="787" r="3.5" fill="#F6C9C9"/>
<!-- nurse hair & face -->
<path d="M1214,515 Q1190,530 1193,551 Q1192,585 1204,601 Q1220,612 1233,615 Q1245,628 1258,630 Q1272,628 1276,622 L1276,569 Z" fill="#3E3232"/>
<path d="M1156,336 Q1150,300 1175,287 Q1200,276 1230,290 Q1245,300 1258,311 Q1285,290 1322,288 Q1360,295 1375,344 Q1390,352 1394,364 Q1430,375 1440,415 Q1442,440 1429,458 Q1480,465 1500,487 Q1525,510 1526,540 Q1528,585 1511,612 Q1495,640 1465,655 Q1440,666 1411,665 Q1360,662 1322,647 Q1300,625 1297,594 Q1296,560 1304,530 L1318,512 Q1312,470 1300,451 Q1290,440 1272,444 Q1250,420 1226,394 Q1215,392 1208,390 Q1198,386 1193,380 Q1175,378 1161,365 Q1155,350 1156,336 Z" fill="#3E3232"/>
<path d="M1201,387 Q1212,392 1226,394 Q1250,420 1272,444 Q1290,440 1300,451 Q1312,470 1318,512 Q1305,540 1293,562 Q1275,572 1261,569 Q1245,560 1233,540 Q1215,520 1210,497 Q1200,470 1201,451 Z" fill="#F0918E"/>
</g>

<g fill="#7F7F7F" font-family="Liberation Sans, Noto Sans CJK SC, sans-serif" font-size="83">
<text x="161.1" y="4041">注</text>
<text x="251.6" y="4041">：</text>
<text x="336.7" y="4041">每</text>
<text x="424.4" y="4041">千</text>
<text x="512.7" y="4041">名</text>
<text x="600.0" y="4041">老</text>
<text x="687.0" y="4041">人</text>
<text x="773.6" y="4041">对</text>
<text x="862.5" y="4041">应</text>
<text x="949.5" y="4041">卫</text>
<text x="1037.4" y="4041">生</text>
<text x="1124.4" y="4041">人</text>
<text x="1209.7" y="4041">员</text>
<text x="1296.5" y="4041">数</text>
<text x="1388.0" y="4041" font-family="Liberation Sans, sans-serif" font-size="94" textLength="54.9" lengthAdjust="spacingAndGlyphs">=</text>
<text x="1423.5" y="4041">（</text>
<text x="1537.4" y="4041">区</text>
<text x="1625.6" y="4041">域</text>
<text x="1707.0" y="4041">内</text>
<text x="1794.0" y="4041">卫</text>
<text x="1883.7" y="4041">生</text>
<text x="1964.6" y="4041">技</text>
<text x="2054.0" y="4041">术</text>
<text x="2142.8" y="4041">人</text>
<text x="2230.0" y="4041">员</text>
<text x="2314.0" y="4041">数</text>
<text x="2405.5" y="4041" font-family="Liberation Sans, sans-serif" font-size="94" textLength="18.3" lengthAdjust="spacingAndGlyphs">/</text>
<text x="2438.6" y="4041">区</text>
<text x="2528.6" y="4041">域</text>
<text x="2613.7" y="4041" font-family="Liberation Sans, sans-serif" font-size="94" textLength="122.5" lengthAdjust="spacingAndGlyphs">60</text>
<text x="2728.9" y="4041">岁</text>
<text x="2821.8" y="4041">及</text>
<text x="2903.8" y="4041">以</text>
<text x="2996.0" y="4041">上</text>
<text x="3081.8" y="4041">人</text>
<text x="3169.6" y="4041">口</text>
<text x="3257.7" y="4041">总</text>
<text x="3344.0" y="4041">数</text>
<text x="3454.0" y="4041">）</text>
<text x="3523.6" y="4041" font-family="Liberation Sans, sans-serif" font-size="94" textLength="264.9" lengthAdjust="spacingAndGlyphs">*1000</text>
<text x="3886.0" y="4041">。</text>
<text x="3965.5" y="4041">邢</text>
<text x="4053.3" y="4041">台</text>
<text x="4138.5" y="4041" font-family="Liberation Sans, sans-serif" font-size="94" textLength="122.5" lengthAdjust="spacingAndGlyphs">60</text>
<text x="4253.7" y="4041">岁</text>
<text x="161.1" y="4171">上</text>
<text x="249.6" y="4171">老</text>
<text x="336.5" y="4171">人</text>
<text x="423.6" y="4171">数</text>
<text x="511.7" y="4171">据</text>
<text x="598.8" y="4171">为</text>
<text x="684.7" y="4171" font-family="Liberation Sans, sans-serif" font-size="94" textLength="235.1" lengthAdjust="spacingAndGlyphs">2020</text>
<text x="921.4" y="4171">年</text>
<text x="1009.8" y="4171">数</text>
<text x="1096.6" y="4171">据</text>
<text x="1187.5" y="4171">，</text>
<text x="1277.5" y="4171">衡</text>
<text x="1356.0" y="4171">水</text>
<text x="1445.5" y="4171">、</text>
<text x="1537.0" y="4171">石</text>
<text x="1619.4" y="4171">家</text>
<text x="1708.8" y="4171">庄</text>
<text x="1795.8" y="4171">为</text>
<text x="1883.6" y="4171" font-family="Liberation Sans, sans-serif" font-size="94" textLength="213.3" lengthAdjust="spacingAndGlyphs">2021</text>
<text x="2107.0" y="4171">年</text>
<text x="2199.0" y="4171">，</text>
<text x="2282.8" y="4171">承</text>
<text x="2371.3" y="4171">德</text>
<text x="2457.3" y="4171">为</text>
<text x="2544.7" y="4171" font-family="Liberation Sans, sans-serif" font-size="94" textLength="231.3" lengthAdjust="spacingAndGlyphs">2022</text>
<text x="2778.1" y="4171">年</text>
<text x="2874.0" y="4171">；</text>
<text x="2950.8" y="4171">邢</text>
<text x="3044.5" y="4171">台</text>
<text x="3128.7" y="4171">卫</text>
<text x="3210.8" y="4171">生</text>
<text x="3305.0" y="4171">人</text>
<text x="3390.8" y="4171">员</text>
<text x="3477.8" y="4171">数</text>
<text x="3565.7" y="4171">量</text>
<text x="3652.7" y="4171">为</text>
<text x="3740.1" y="4171" font-family="Liberation Sans, sans-serif" font-size="94" textLength="235.2" lengthAdjust="spacingAndGlyphs">2022</text>
<text x="3973.3" y="4171">年</text>
<text x="4058.3" y="4171">数</text>
<text x="4147.3" y="4171">据</text>
<text x="4241.0" y="4171">。</text>
</g>
<line x1="78.4" y1="4397.5" x2="4421.6" y2="4397.5" stroke="#737373" stroke-width="2.3" stroke-dasharray="20.8 20.867"/>
<text x="152" y="4587" font-family="Liberation Sans, Noto Sans CJK SC, sans-serif" font-size="84" letter-spacing="3.8" fill="#7F7F7F">数据来源：各地发展统计公报</text>
</svg></body></html>
